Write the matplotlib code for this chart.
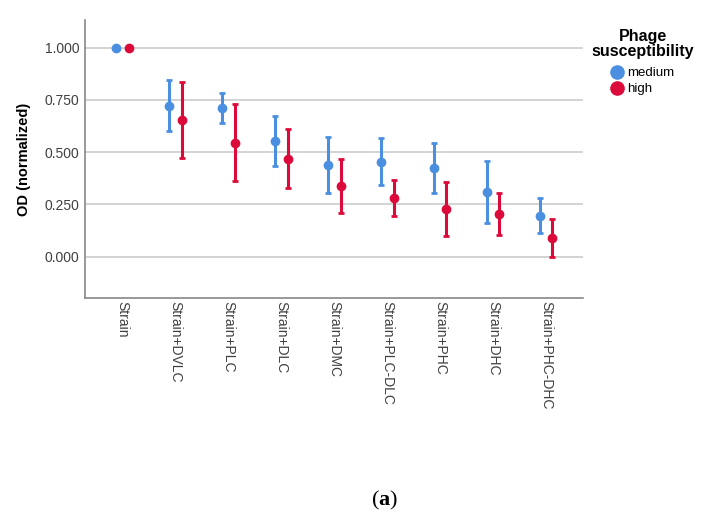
import matplotlib
matplotlib.use("Agg")
import matplotlib.pyplot as plt
from matplotlib.lines import Line2D
import numpy as np

plt.rcParams['font.family'] = ['Liberation Sans', 'DejaVu Sans']
plt.rcParams['mathtext.fontset'] = 'custom'
plt.rcParams['mathtext.rm'] = 'Liberation Serif'
plt.rcParams['mathtext.bf'] = 'Liberation Serif:bold'

categories = ["Strain", "Strain+DVLC", "Strain+PLC", "Strain+DLC", "Strain+DMC",
              "Strain+PLC-DLC", "Strain+PHC", "Strain+DHC", "Strain+PHC-DHC"]

# mean, lower and upper bound of the error bars
medium_mean = [1.000, 0.723, 0.713, 0.552, 0.437, 0.452, 0.423, 0.310, 0.196]
medium_low = [1.000, 0.603, 0.641, 0.432, 0.305, 0.341, 0.305, 0.163, 0.112]
medium_high = [1.000, 0.845, 0.785, 0.673, 0.573, 0.566, 0.543, 0.458, 0.282]

high_mean = [1.000, 0.654, 0.544, 0.467, 0.338, 0.279, 0.227, 0.204, 0.088]
high_low = [1.000, 0.474, 0.361, 0.329, 0.211, 0.193, 0.099, 0.105, -0.001]
high_high = [1.000, 0.837, 0.729, 0.611, 0.467, 0.367, 0.356, 0.306, 0.180]

y_ticks = [0.0, 0.25, 0.5, 0.75, 1.0]

color_map = {"medium": "#4a8fe0", "high": "#dc0a3a"}

fig = plt.figure(figsize=(7.11, 5.22), dpi=100)
ax = fig.add_axes([0.1195, 0.4285, 0.7005, 0.5332])

x = np.arange(len(categories), dtype=float)
offset = 0.12
for name, mean, lo, hi, dx in [
    ("medium", medium_mean, medium_low, medium_high, -offset),
    ("high", high_mean, high_low, high_high, offset),
]:
    mean = np.array(mean)
    err = np.vstack([mean - np.array(lo), np.array(hi) - mean])
    ax.errorbar(x + dx, mean, yerr=err, fmt="o", color=color_map[name],
                markersize=6, elinewidth=2.2, capsize=2.5, capthick=2,
                zorder=3)

for t in y_ticks:
    ax.axhline(t, color="#d0d0d0", linewidth=1.3, zorder=1)

ax.set_xlim(-0.71, 8.7)
ax.set_ylim(-0.2, 1.133)
ax.set_yticks(y_ticks, [f"{t:.3f}" for t in y_ticks])
ax.set_xticks(x, categories, rotation=270, ha="center", va="top")
ax.tick_params(axis="both", length=0, labelsize=10, colors="#404040")
ax.tick_params(axis="x", pad=2)
ax.tick_params(axis="y", pad=4)
ax.set_ylabel("OD (normalized)", fontsize=10.5, fontweight="bold", labelpad=10)
ax.spines[["top", "right"]].set_visible(False)
ax.spines[["left", "bottom"]].set_color("#888888")
ax.spines[["left", "bottom"]].set_linewidth(1.2)

# legend: title drawn separately so it sits centered above the entries
fig.text(0.9044, 0.9444, "Phage\nsusceptibility", ha="center", va="top",
         multialignment="center", fontsize=11.5, fontweight="bold",
         linespacing=1.0)
handles = [Line2D([], [], marker="o", linestyle="", markersize=9.5,
                  color=color_map[n], label=n) for n in ["medium", "high"]]
fig.legend(handles=handles, loc="upper left", bbox_to_anchor=(0.8585, 0.8716),
           frameon=False, fontsize=9.5, handletextpad=0.26, borderpad=0,
           labelspacing=0.3, handlelength=1.0, borderaxespad=0)

fig.text(0.541, 0.042, r"$(\mathbf{a})$", ha="center", va="center", fontsize=16)

fig.savefig("out.png", dpi=100)
